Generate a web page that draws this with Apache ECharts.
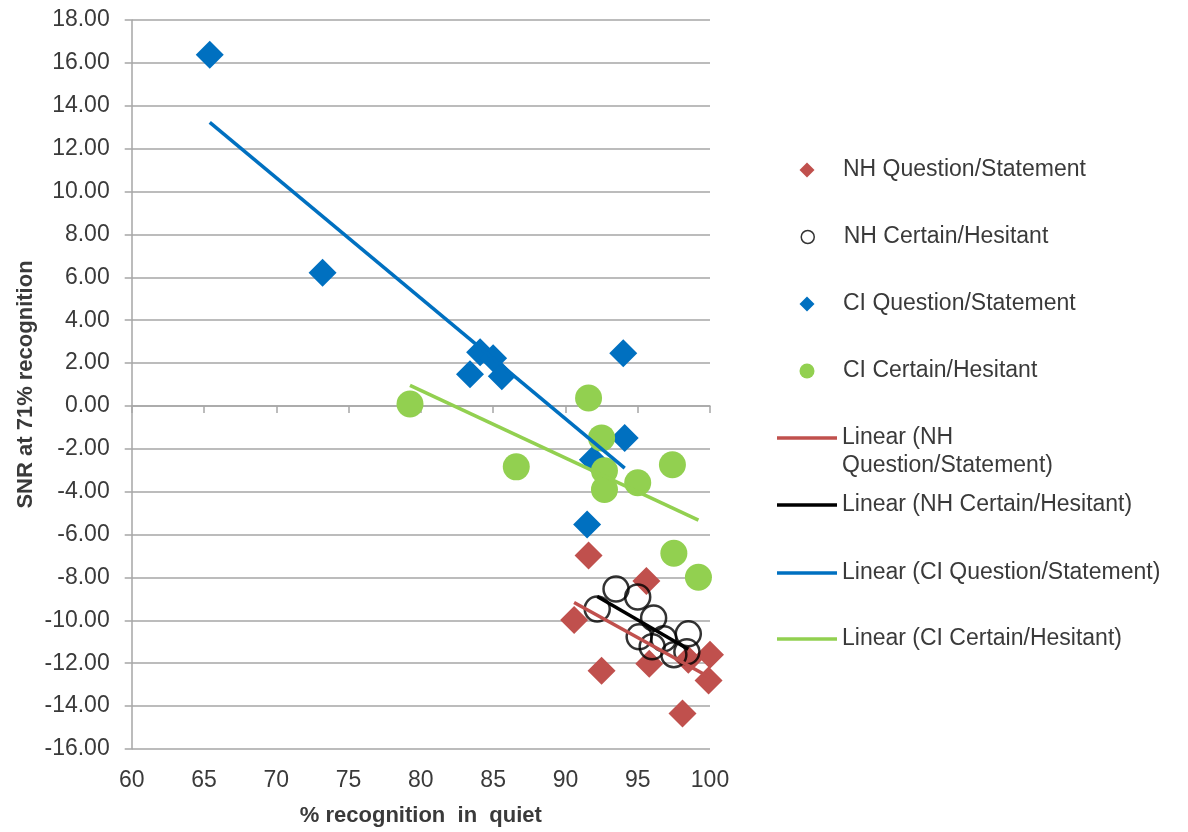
<!DOCTYPE html>
<html>
<head>
<meta charset="utf-8">
<title>SNR vs recognition in quiet</title>
<script src="https://cdn.jsdelivr.net/npm/echarts@6/dist/echarts.min.js"></script>
<style>
  html, body { margin: 0; padding: 0; background: #ffffff; }
  #chart { width: 1188px; height: 832px; }
</style>
</head>
<body>
<div id="chart"></div>
<script>
// % recognition in quiet (x) and SNR at 71% recognition (y) per group
const nhQSx = [91.6, 95.6, 90.6, 92.5, 95.8, 100.0, 99.9, 98.1, 98.5];
const nhQSy = [-6.97, -8.17, -9.98, -12.35, -12.02, -11.60, -12.81, -14.34, -11.84];

const nhCHx = [92.2, 93.5, 95.0, 96.1, 95.1, 96.0, 96.8, 97.5, 98.5, 98.4];
const nhCHy = [-9.47, -8.54, -8.91, -9.89, -10.77, -11.23, -10.86, -11.60, -10.63, -11.47];

const ciQSx = [65.4, 73.2, 84.1, 85.0, 83.4, 85.6, 94.0, 94.1, 91.9, 91.5];
const ciQSy = [16.38, 6.21, 2.50, 2.22, 1.48, 1.39, 2.46, -1.49, -2.51, -5.53];

const ciCHx = [79.25, 91.6, 86.6, 92.5, 92.7, 92.7, 95.0, 97.4, 97.5, 99.2];
const ciCHy = [0.09, 0.37, -2.84, -1.49, -3.02, -3.90, -3.58, -2.74, -6.87, -7.99];

const seriesNames = [
  'NH Question/Statement',
  'NH Certain/Hesitant',
  'CI Question/Statement',
  'CI Certain/Hesitant',
  'Linear (NH Question/Statement)',
  'Linear (NH Certain/Hesitant)',
  'Linear (CI Question/Statement)',
  'Linear (CI Certain/Hesitant)'
];

const RED = '#C0504D', BLUE = '#0070C0', GREEN = '#92D050', BLACK = '#000000';
const FONT = "'Liberation Sans', Arial, sans-serif";
const TEXT = '#3a3a3a';
const GRID = '#A6A6A6';

function pairs(xs, ys) { return xs.map((x, i) => [x, ys[i]]); }

// Least-squares straight line across the x range of a group
function linearFit(xs, ys) {
  const n = xs.length;
  const mx = xs.reduce((a, b) => a + b, 0) / n;
  const my = ys.reduce((a, b) => a + b, 0) / n;
  let sxy = 0, sxx = 0;
  for (let i = 0; i < n; i++) {
    sxy += (xs[i] - mx) * (ys[i] - my);
    sxx += (xs[i] - mx) * (xs[i] - mx);
  }
  const slope = sxy / sxx;
  const lo = Math.min(...xs), hi = Math.max(...xs);
  return [[lo, my + slope * (lo - mx)], [hi, my + slope * (hi - mx)]];
}

function scatter(name, xs, ys, symbol, color, extra) {
  return Object.assign({
    name: name,
    type: 'scatter',
    xAxisIndex: 0,
    symbol: symbol,
    symbolSize: 28,
    itemStyle: { color: color, opacity: 1 },
    data: pairs(xs, ys),
    z: 2
  }, extra || {});
}

function trend(name, xs, ys, color) {
  return {
    name: name,
    type: 'line',
    xAxisIndex: 0,
    symbol: 'none',
    lineStyle: { color: color, width: 3.5 },
    itemStyle: { color: color },
    data: linearFit(xs, ys),
    z: 4,
    silent: true
  };
}

const series = [
  scatter(seriesNames[0], nhQSx, nhQSy, 'diamond', RED),
  scatter(seriesNames[1], nhCHx, nhCHy, 'circle', 'rgba(0,0,0,0)', {
    symbolSize: 25,
    itemStyle: { color: 'rgba(255,255,255,0)', borderColor: BLACK, borderWidth: 2.5 }
  }),
  scatter(seriesNames[2], ciQSx, ciQSy, 'diamond', BLUE),
  scatter(seriesNames[3], ciCHx, ciCHy, 'circle', GREEN, { symbolSize: 27 }),
  trend(seriesNames[4], nhQSx, nhQSy, RED),
  trend(seriesNames[5], nhCHx, nhCHy, BLACK),
  trend(seriesNames[6], ciQSx, ciQSy, BLUE),
  trend(seriesNames[7], ciCHx, ciCHy, GREEN)
];

// Legend: one block per entry, stacked down the right-hand side.
// Marker keys are centred at x=807, line keys run 777..837, text starts at x=843.
const legendCenters = [170, 237, 304, 371, 438, 505, 573, 639];
const markerKeys = [
  { icon: 'diamond', size: 15, style: { color: RED, borderWidth: 0 } },
  { icon: 'circle', size: 13, style: { color: 'rgba(255,255,255,0)', borderColor: BLACK, borderWidth: 1.5 } },
  { icon: 'diamond', size: 15, style: { color: BLUE, borderWidth: 0 } },
  { icon: 'circle', size: 15, style: { color: GREEN, borderWidth: 0 } }
];
const lineColors = [RED, BLACK, BLUE, GREEN];
const baseText = { fontFamily: FONT, fontSize: 23, color: TEXT, lineHeight: 28 };

const legends = seriesNames.map((name, i) => {
  if (i < 4) {
    const k = markerKeys[i];
    const textX = 843 - (807 + k.size / 2 + 5);
    return {
      data: [{ name: name, icon: k.icon, itemStyle: k.style }],
      left: 807 - k.size / 2,
      top: legendCenters[i] - 14,
      padding: 0,
      itemWidth: k.size,
      itemHeight: k.size,
      selectedMode: false,
      formatter: n => '{s|}' + n,
      textStyle: Object.assign({}, baseText, {
        rich: { s: { width: textX, height: 1 } }
      })
    };
  }
  const wrapped = i === 4;
  return {
    data: [{ name: name, icon: 'rect', itemStyle: { color: lineColors[i - 4], borderWidth: 0 } }],
    left: 777,
    // the wrapped entry carries an empty leading line so its first line sits on the key
    top: legendCenters[i] - (wrapped ? 42 : 14),
    padding: 0,
    itemWidth: 60,
    itemHeight: 3.5,
    selectedMode: false,
    formatter: wrapped ? (() => '\nLinear (NH\nQuestion/Statement)') : (n => n),
    textStyle: baseText
  };
});

const chart = echarts.init(document.getElementById('chart'), null, { renderer: 'canvas' });

chart.setOption({
  backgroundColor: '#ffffff',
  animation: false,
  grid: { left: 131.7, right: 478, top: 20, bottom: 79.3, containLabel: false },
  legend: legends,
  xAxis: [
    {
      type: 'value',
      position: 'bottom',
      min: 60, max: 100, interval: 5,
      name: '% recognition  in  quiet',
      nameLocation: 'middle',
      nameGap: 56,
      nameTextStyle: { fontFamily: FONT, fontSize: 22, fontWeight: 'bold', color: TEXT },
      axisLine: { show: false, onZero: false },
      axisTick: { show: false },
      splitLine: { show: false },
      axisLabel: { fontFamily: FONT, fontSize: 23, color: TEXT, margin: 20 }
    },
    {
      // axis line crossing at SNR = 0, with downward ticks
      type: 'value',
      position: 'top',
      min: 60, max: 100, interval: 5,
      axisLine: { show: true, onZero: true, lineStyle: { color: GRID, width: 1.5 } },
      axisTick: { show: true, inside: true, length: 7, lineStyle: { color: GRID, width: 1.5 } },
      axisLabel: { show: false },
      splitLine: { show: false }
    }
  ],
  yAxis: {
    type: 'value',
    min: -16, max: 18, interval: 2,
    name: 'SNR at 71% recognition',
    nameLocation: 'middle',
    nameGap: 95,
    nameRotate: 90,
    nameTextStyle: { fontFamily: FONT, fontSize: 22, fontWeight: 'bold', color: TEXT },
    axisLine: { show: true, onZero: false, lineStyle: { color: GRID, width: 1.5 } },
    axisTick: { show: true, length: 7, lineStyle: { color: GRID, width: 1.5 } },
    splitLine: { show: true, lineStyle: { color: GRID, width: 1.5 } },
    axisLabel: {
      fontFamily: FONT, fontSize: 23, color: TEXT, margin: 22,
      formatter: v => v.toFixed(2)
    }
  },
  series: series
});
</script>
</body>
</html>
